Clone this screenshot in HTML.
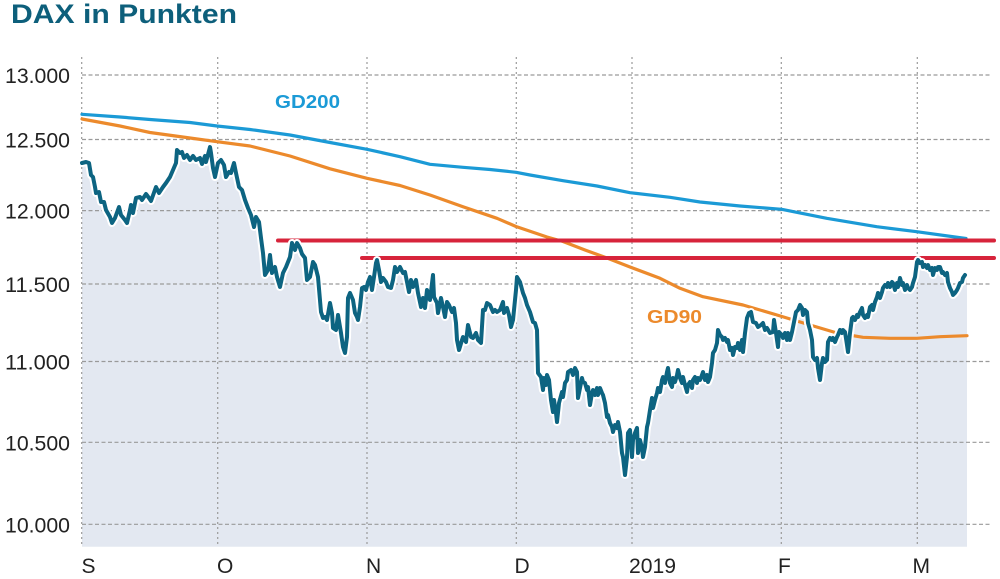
<!DOCTYPE html>
<html>
<head>
<meta charset="utf-8">
<style>
html,body{margin:0;padding:0;background:#fff;}
svg{display:block;}
text{font-family:"Liberation Sans",Arial,sans-serif;}
</style>
</head>
<body>
<svg width="1000" height="579" viewBox="0 0 1000 579" xmlns="http://www.w3.org/2000/svg">
<rect x="0" y="0" width="1000" height="579" fill="#fff"/>
<text x="11" y="23" font-size="27" font-weight="bold" fill="#0d5f7b" textLength="226" lengthAdjust="spacingAndGlyphs">DAX in Punkten</text>

<polygon fill="#e3e8f1" points="82,546.7 82,163 86,162 89,163 91,175 93,177 95,187 96,193 99,192 101,202 104,202 106,210 110,217 112,223 115,218 119,207 121,215 125,220 127,223 130,210 131,205 133,213 136,198 140,197 142,200 146,194 149,198 151,201 156,187 159,193 163,187 166,183 170,177 173,170 176,163 177,150 180,153 182,152 184,158 187,155 190,160 193,156 196,160 200,158 202,164 205,156 206,162 210,147 211,153 213,168 215,177 218,163 221,160 224,165 226,177 229,172 231,173 234,163 236,173 239,187 242,190 245,200 248,208 251,215 254,227 256,217 259,222 261,238 263,253 265,275 268,270 270,255 272,273 275,267 277,277 280,287 283,273 286,267 290,257 292,243 295,250 297,243 300,248 302,254 305,258 307,280 310,277 313,262 315,265 317,273 318,277 321,312 323,318 325,317 327,320 330,303 332,313 333,328 336,330 338,315 341,333 343,347 345,353 347,337 348,298 350,293 353,300 355,313 357,317 358,320 360,307 362,288 364,287 366,290 368,282 370,277 372,290 374,277 376,263 377,260 379,270 381,282 383,278 386,282 388,287 391,288 393,280 395,267 397,272 400,267 403,273 405,272 407,282 409,292 411,280 413,287 416,280 418,293 421,307 423,298 425,308 427,290 430,300 433,275 434,297 437,303 438,313 441,298 443,307 445,317 447,302 449,305 452,312 454,308 456,323 457,340 459,350 462,340 463,337 466,342 468,325 471,337 473,338 476,333 478,340 481,343 483,310 485,310 487,303 490,305 493,312 495,310 497,312 500,310 503,302 504,313 507,308 509,315 511,327 513,320 516,290 517,277 520,282 523,293 525,298 527,305 530,312 533,322 535,323 537,330 538,373 541,377 543,390 544,378 546,385 547,375 549,380 551,400 553,412 554,400 556,413 557,422 559,403 562,392 563,397 565,383 567,380 568,372 571,370 573,375 575,368 577,372 578,398 580,388 582,378 583,382 585,383 587,390 588,387 590,405 592,393 593,390 595,395 597,388 598,395 600,388 602,393 603,395 605,403 607,417 608,415 610,423 612,427 613,432 615,425 617,428 618,422 620,432 622,453 623,457 625,475 627,457 628,433 630,430 632,457 633,440 635,433 637,428 638,453 640,440 642,448 643,457 645,447 647,427 648,423 650,410 652,398 653,408 655,400 657,393 658,388 660,392 662,380 663,377 665,383 667,372 668,368 670,383 672,387 673,378 675,382 677,375 678,370 680,378 682,383 683,377 685,385 687,392 688,385 690,382 692,388 693,380 695,377 697,383 698,378 700,380 702,375 703,372 705,380 707,375 708,382 710,377 712,363 713,353 715,350 717,343 718,330 720,335 722,337 723,340 725,338 727,342 728,340 730,350 732,348 733,355 735,347 737,348 738,343 740,350 742,340 743,352 745,333 747,318 749,313 751,312 753,322 756,323 758,327 761,325 763,323 765,330 767,328 770,333 773,332 774,320 776,333 778,347 779,332 782,335 783,338 785,333 787,340 788,333 790,340 792,332 794,322 796,312 798,310 800,305 802,308 803,315 805,310 807,312 808,323 810,330 812,340 813,357 815,360 817,358 818,368 820,380 822,363 823,358 825,362 827,360 828,342 830,338 832,340 833,338 835,342 837,337 838,335 840,330 842,333 843,330 845,332 847,345 848,352 850,333 852,318 853,317 855,320 857,315 858,317 860,312 862,308 863,315 865,318 867,315 868,317 870,307 872,305 873,310 875,302 877,297 878,293 880,298 882,292 883,288 885,285 887,287 888,283 890,287 892,282 893,283 895,290 897,283 898,287 900,278 902,285 903,283 905,290 907,285 908,288 910,290 912,287 913,283 915,277 917,262 918,260 920,263 922,262 923,267 925,265 927,268 928,265 930,270 932,268 933,275 935,268 937,270 938,267 940,267 942,273 943,272 945,275 947,273 948,282 950,288 952,292 953,295 955,293 957,290 958,288 960,283 962,282 963,278 965,275 967,273 967,546.7"/>

<g stroke="#9a9a9a" stroke-width="1.2" stroke-dasharray="4,2.5" fill="none">
<line x1="82" y1="75" x2="992" y2="75"/>
<line x1="82" y1="139.5" x2="992" y2="139.5"/>
<line x1="82" y1="210.6" x2="992" y2="210.6"/>
<line x1="82" y1="284" x2="992" y2="284"/>
<line x1="82" y1="361.5" x2="992" y2="361.5"/>
<line x1="82" y1="442.3" x2="992" y2="442.3"/>
<line x1="82" y1="524.3" x2="992" y2="524.3"/>
</g>
<g stroke="#9a9a9a" stroke-width="1.2" stroke-dasharray="2,3" fill="none">
<line x1="81.7" y1="57" x2="81.7" y2="547"/>
<line x1="217.7" y1="57" x2="217.7" y2="547"/>
<line x1="367" y1="57" x2="367" y2="547"/>
<line x1="516.3" y1="57" x2="516.3" y2="547"/>
<line x1="632" y1="57" x2="632" y2="547"/>
<line x1="781.3" y1="57" x2="781.3" y2="547"/>
<line x1="917.3" y1="57" x2="917.3" y2="547"/>
</g>

<polyline fill="none" stroke="#1b9ad6" stroke-width="3.2" stroke-linejoin="round" stroke-linecap="round"
points="82,114.3 120,117 150,119.5 190,122.5 217,126 250,129.5 290,135 330,142.5 367,149.3 400,156.7 430,164.3 463,167.3 490,169.5 516,172.3 530,175 563,180.7 597,186 630,192.7 670,197.3 700,202 740,206 781.7,209.3 826.7,218.3 876.7,226.7 916.7,231.7 966,238.5"/>
<polyline fill="none" stroke="#ec8a2c" stroke-width="3.2" stroke-linejoin="round" stroke-linecap="round"
points="82,119 120,126 150,132.5 190,138 217,141.7 250,146 290,156 330,168.8 367,178.3 400,185.5 430,195 463,206.7 497,218.3 516,226.5 547,237 563,241.5 585,250 607,258 630,267 660,278.3 680,288.3 703,296.7 743,305 777,315 810,325 837,333 863,337.3 890,338.3 917,338.3 940,336.7 967,335.7"/>

<line x1="278" y1="240.5" x2="994" y2="240.5" stroke="#d7243b" stroke-width="4" stroke-linecap="round"/>
<line x1="362" y1="258" x2="994" y2="258" stroke="#d7243b" stroke-width="4" stroke-linecap="round"/>

<g fill="none" stroke-linejoin="round" stroke-linecap="round">
<polyline stroke="#ffffff" stroke-width="8" points="82,163 86,162 89,163 91,175 93,177 95,187 96,193 99,192 101,202 104,202 106,210 110,217 112,223 115,218 119,207 121,215 125,220 127,223 130,210 131,205 133,213 136,198 140,197 142,200 146,194 149,198 151,201 156,187 159,193 163,187 166,183 170,177 173,170 176,163 177,150 180,153 182,152 184,158 187,155 190,160 193,156 196,160 200,158 202,164 205,156 206,162 210,147 211,153 213,168 215,177 218,163 221,160 224,165 226,177 229,172 231,173 234,163 236,173 239,187 242,190 245,200 248,208 251,215 254,227 256,217 259,222 261,238 263,253 265,275 268,270 270,255 272,273 275,267 277,277 280,287 283,273 286,267 290,257 292,243 295,250 297,243 300,248 302,254 305,258 307,280 310,277 313,262 315,265 317,273 318,277 321,312 323,318 325,317 327,320 330,303 332,313 333,328 336,330 338,315 341,333 343,347 345,353 347,337 348,298 350,293 353,300 355,313 357,317 358,320 360,307 362,288 364,287 366,290 368,282 370,277 372,290 374,277 376,263 377,260 379,270 381,282 383,278 386,282 388,287 391,288 393,280 395,267 397,272 400,267 403,273 405,272 407,282 409,292 411,280 413,287 416,280 418,293 421,307 423,298 425,308 427,290 430,300 433,275 434,297 437,303 438,313 441,298 443,307 445,317 447,302 449,305 452,312 454,308 456,323 457,340 459,350 462,340 463,337 466,342 468,325 471,337 473,338 476,333 478,340 481,343 483,310 485,310 487,303 490,305 493,312 495,310 497,312 500,310 503,302 504,313 507,308 509,315 511,327 513,320 516,290 517,277 520,282 523,293 525,298 527,305 530,312 533,322 535,323 537,330 538,373 541,377 543,390 544,378 546,385 547,375 549,380 551,400 553,412 554,400 556,413 557,422 559,403 562,392 563,397 565,383 567,380 568,372 571,370 573,375 575,368 577,372 578,398 580,388 582,378 583,382 585,383 587,390 588,387 590,405 592,393 593,390 595,395 597,388 598,395 600,388 602,393 603,395 605,403 607,417 608,415 610,423 612,427 613,432 615,425 617,428 618,422 620,432 622,453 623,457 625,475 627,457 628,433 630,430 632,457 633,440 635,433 637,428 638,453 640,440 642,448 643,457 645,447 647,427 648,423 650,410 652,398 653,408 655,400 657,393 658,388 660,392 662,380 663,377 665,383 667,372 668,368 670,383 672,387 673,378 675,382 677,375 678,370 680,378 682,383 683,377 685,385 687,392 688,385 690,382 692,388 693,380 695,377 697,383 698,378 700,380 702,375 703,372 705,380 707,375 708,382 710,377 712,363 713,353 715,350 717,343 718,330 720,335 722,337 723,340 725,338 727,342 728,340 730,350 732,348 733,355 735,347 737,348 738,343 740,350 742,340 743,352 745,333 747,318 749,313 751,312 753,322 756,323 758,327 761,325 763,323 765,330 767,328 770,333 773,332 774,320 776,333 778,347 779,332 782,335 783,338 785,333 787,340 788,333 790,340 792,332 794,322 796,312 798,310 800,305 802,308 803,315 805,310 807,312 808,323 810,330 812,340 813,357 815,360 817,358 818,368 820,380 822,363 823,358 825,362 827,360 828,342 830,338 832,340 833,338 835,342 837,337 838,335 840,330 842,333 843,330 845,332 847,345 848,352 850,333 852,318 853,317 855,320 857,315 858,317 860,312 862,308 863,315 865,318 867,315 868,317 870,307 872,305 873,310 875,302 877,297 878,293 880,298 882,292 883,288 885,285 887,287 888,283 890,287 892,282 893,283 895,290 897,283 898,287 900,278 902,285 903,283 905,290 907,285 908,288 910,290 912,287 913,283 915,277 917,262 918,260 920,263 922,262 923,267 925,265 927,268 928,265 930,270 932,268 933,275 935,268 937,270 938,267 940,267 942,273 943,272 945,275 947,273 948,282 950,288 952,292 953,295 955,293 957,290 958,288 960,283 962,282 963,278 965,275"/>
<polyline stroke="#0d6481" stroke-width="4" points="82,163 86,162 89,163 91,175 93,177 95,187 96,193 99,192 101,202 104,202 106,210 110,217 112,223 115,218 119,207 121,215 125,220 127,223 130,210 131,205 133,213 136,198 140,197 142,200 146,194 149,198 151,201 156,187 159,193 163,187 166,183 170,177 173,170 176,163 177,150 180,153 182,152 184,158 187,155 190,160 193,156 196,160 200,158 202,164 205,156 206,162 210,147 211,153 213,168 215,177 218,163 221,160 224,165 226,177 229,172 231,173 234,163 236,173 239,187 242,190 245,200 248,208 251,215 254,227 256,217 259,222 261,238 263,253 265,275 268,270 270,255 272,273 275,267 277,277 280,287 283,273 286,267 290,257 292,243 295,250 297,243 300,248 302,254 305,258 307,280 310,277 313,262 315,265 317,273 318,277 321,312 323,318 325,317 327,320 330,303 332,313 333,328 336,330 338,315 341,333 343,347 345,353 347,337 348,298 350,293 353,300 355,313 357,317 358,320 360,307 362,288 364,287 366,290 368,282 370,277 372,290 374,277 376,263 377,260 379,270 381,282 383,278 386,282 388,287 391,288 393,280 395,267 397,272 400,267 403,273 405,272 407,282 409,292 411,280 413,287 416,280 418,293 421,307 423,298 425,308 427,290 430,300 433,275 434,297 437,303 438,313 441,298 443,307 445,317 447,302 449,305 452,312 454,308 456,323 457,340 459,350 462,340 463,337 466,342 468,325 471,337 473,338 476,333 478,340 481,343 483,310 485,310 487,303 490,305 493,312 495,310 497,312 500,310 503,302 504,313 507,308 509,315 511,327 513,320 516,290 517,277 520,282 523,293 525,298 527,305 530,312 533,322 535,323 537,330 538,373 541,377 543,390 544,378 546,385 547,375 549,380 551,400 553,412 554,400 556,413 557,422 559,403 562,392 563,397 565,383 567,380 568,372 571,370 573,375 575,368 577,372 578,398 580,388 582,378 583,382 585,383 587,390 588,387 590,405 592,393 593,390 595,395 597,388 598,395 600,388 602,393 603,395 605,403 607,417 608,415 610,423 612,427 613,432 615,425 617,428 618,422 620,432 622,453 623,457 625,475 627,457 628,433 630,430 632,457 633,440 635,433 637,428 638,453 640,440 642,448 643,457 645,447 647,427 648,423 650,410 652,398 653,408 655,400 657,393 658,388 660,392 662,380 663,377 665,383 667,372 668,368 670,383 672,387 673,378 675,382 677,375 678,370 680,378 682,383 683,377 685,385 687,392 688,385 690,382 692,388 693,380 695,377 697,383 698,378 700,380 702,375 703,372 705,380 707,375 708,382 710,377 712,363 713,353 715,350 717,343 718,330 720,335 722,337 723,340 725,338 727,342 728,340 730,350 732,348 733,355 735,347 737,348 738,343 740,350 742,340 743,352 745,333 747,318 749,313 751,312 753,322 756,323 758,327 761,325 763,323 765,330 767,328 770,333 773,332 774,320 776,333 778,347 779,332 782,335 783,338 785,333 787,340 788,333 790,340 792,332 794,322 796,312 798,310 800,305 802,308 803,315 805,310 807,312 808,323 810,330 812,340 813,357 815,360 817,358 818,368 820,380 822,363 823,358 825,362 827,360 828,342 830,338 832,340 833,338 835,342 837,337 838,335 840,330 842,333 843,330 845,332 847,345 848,352 850,333 852,318 853,317 855,320 857,315 858,317 860,312 862,308 863,315 865,318 867,315 868,317 870,307 872,305 873,310 875,302 877,297 878,293 880,298 882,292 883,288 885,285 887,287 888,283 890,287 892,282 893,283 895,290 897,283 898,287 900,278 902,285 903,283 905,290 907,285 908,288 910,290 912,287 913,283 915,277 917,262 918,260 920,263 922,262 923,267 925,265 927,268 928,265 930,270 932,268 933,275 935,268 937,270 938,267 940,267 942,273 943,272 945,275 947,273 948,282 950,288 952,292 953,295 955,293 957,290 958,288 960,283 962,282 963,278 965,275"/>
</g>

<text x="275" y="108" font-size="18" font-weight="bold" fill="#1b9ad6" textLength="65" lengthAdjust="spacingAndGlyphs">GD200</text>
<text x="647" y="323" font-size="18" font-weight="bold" fill="#ec8a2c" textLength="55" lengthAdjust="spacingAndGlyphs">GD90</text>

<g font-size="21" fill="#222">
<text x="5" y="83" textLength="65" lengthAdjust="spacingAndGlyphs">13.000</text>
<text x="5" y="147.5" textLength="65" lengthAdjust="spacingAndGlyphs">12.500</text>
<text x="5" y="218.6" textLength="65" lengthAdjust="spacingAndGlyphs">12.000</text>
<text x="5" y="292" textLength="65" lengthAdjust="spacingAndGlyphs">11.500</text>
<text x="5" y="369.5" textLength="65" lengthAdjust="spacingAndGlyphs">11.000</text>
<text x="5" y="450.3" textLength="65" lengthAdjust="spacingAndGlyphs">10.500</text>
<text x="5" y="532.3" textLength="65" lengthAdjust="spacingAndGlyphs">10.000</text>
</g>
<g font-size="21" fill="#222">
<text x="81.5" y="573">S</text>
<text x="217" y="573">O</text>
<text x="366" y="573">N</text>
<text x="514.5" y="573">D</text>
<text x="629" y="573" textLength="47" lengthAdjust="spacingAndGlyphs">2019</text>
<text x="778" y="573">F</text>
<text x="912.5" y="573">M</text>
</g>
</svg>
</body>
</html>
